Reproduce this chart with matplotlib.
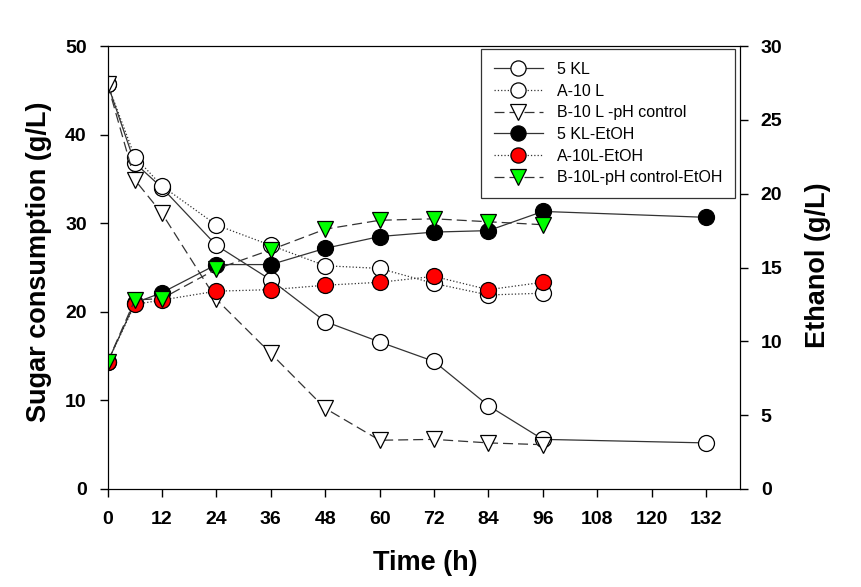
import matplotlib

matplotlib.use("Agg")
import matplotlib.pyplot as plt

plt.rcParams["font.family"] = ["Liberation Sans", "DejaVu Sans"]

# sugar consumption (g/L), left axis
time_5kl = [0, 6, 12, 24, 36, 48, 60, 72, 84, 96, 132]
sugar_5kl = [45.7, 36.8, 34.0, 27.5, 23.6, 18.9, 16.6, 14.4, 9.4, 5.6, 5.2]
time_10 = [0, 6, 12, 24, 36, 48, 60, 72, 84, 96]
sugar_a10 = [45.7, 37.5, 34.2, 29.8, 27.5, 25.2, 24.9, 23.2, 21.9, 22.1]
sugar_b10 = [45.7, 34.9, 31.1, 21.4, 15.3, 9.1, 5.5, 5.6, 5.2, 5.0]

# ethanol (g/L), right axis
etoh_5kl = [8.6, 12.6, 13.3, 15.2, 15.2, 16.3, 17.1, 17.4, 17.5, 18.8, 18.4]
etoh_a10 = [8.6, 12.5, 12.8, 13.4, 13.5, 13.8, 14.0, 14.4, 13.5, 14.0]
etoh_b10 = [8.6, 12.8, 12.9, 14.9, 16.2, 17.6, 18.2, 18.3, 18.1, 17.9]

x_ticks = list(range(0, 133, 12))

fig = plt.figure(figsize=(8.61, 5.87), dpi=100)
ax = fig.add_axes([0.125, 0.167, 0.7345, 0.7545])
ax2 = ax.twinx()

ms = 11.5
lc = "#333333"
dash = (0, (8, 4))
common = dict(lw=0.9, ms=ms, mec="black", mew=0.9)
h1, = ax.plot(time_5kl, sugar_5kl, "-", color=lc, marker="o", mfc="white",
              label="5 KL", **common)
h2, = ax.plot(time_10, sugar_a10, ":", color=lc, marker="o", mfc="white",
              label="A-10 L", **common)
h3, = ax.plot(time_10, sugar_b10, linestyle=dash, color=lc, marker="v", mfc="white",
              label="B-10 L -pH control", **common)
h4, = ax2.plot(time_5kl, etoh_5kl, "-", color=lc, marker="o", mfc="black",
               label="5 KL-EtOH", **common)
h5, = ax2.plot(time_10, etoh_a10, ":", color=lc, marker="o", mfc="#ff0000",
               label="A-10L-EtOH", **common)
h6, = ax2.plot(time_10, etoh_b10, linestyle=dash, color=lc, marker="v", mfc="#00ff00",
               label="B-10L-pH control-EtOH", **common)

ax.set_xlim(0, 139.5)
ax.set_ylim(0, 50)
ax2.set_ylim(0, 30)
ax.set_xticks(x_ticks)
ax.set_yticks(range(0, 51, 10))
ax2.set_yticks(range(0, 31, 5))

for a in (ax, ax2):
    a.tick_params(direction="out", length=6, width=1, labelsize=14, pad=9)
    for lab in a.get_xticklabels() + a.get_yticklabels():
        lab.set_fontweight("bold")
ax.tick_params(axis="x", pad=10)

ax.set_xlabel("Time (h)", fontsize=19.5, fontweight="bold")
ax.set_ylabel("Sugar consumption (g/L)", fontsize=19.5, fontweight="bold")
ax2.set_ylabel("Ethanol (g/L)", fontsize=19.5, fontweight="bold")
# label positions in axes coordinates
ax.xaxis.set_label_coords(0.503, -0.138)
ax.yaxis.set_label_coords(-0.088, 0.512)
ax2.yaxis.set_label_coords(1.103, 0.506)

leg = ax.legend(handles=[h1, h2, h3, h4, h5, h6], loc="upper right",
                bbox_to_anchor=(0.992, 0.993), borderaxespad=0, fontsize=11.5,
                frameon=True, fancybox=False, edgecolor="black", handlelength=3.1,
                labelspacing=0.42, borderpad=0.8, handletextpad=0.85,
                markerscale=0.95)
leg.get_frame().set_linewidth(0.9)

fig.savefig("out.png", dpi=100)
